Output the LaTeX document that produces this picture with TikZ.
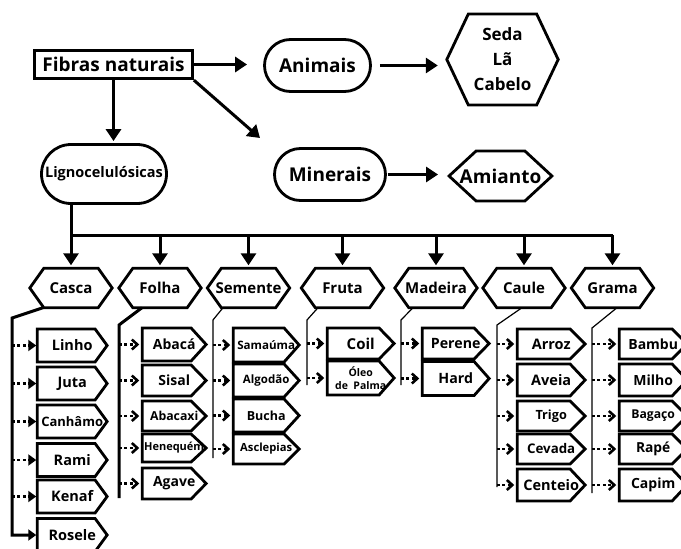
\documentclass[tikz,border=0pt]{standalone}
\usepackage{fontspec}
\setmainfont{Open Sans}
\usetikzlibrary{positioning,calc,arrows.meta,shapes.misc}
\newcommand*{\fsz}[1]{\fontsize{#1pt}{#1pt}\selectfont}
\tikzset{
  box/.style={draw,line width=2.8pt,inner sep=0pt,font=\bfseries},
  pill/.style={box,rounded rectangle,font=\bfseries\fsz{19}},
  outline/.style={line width=2.8pt,line join=miter},
  % hexagon pointed to both sides, #1 = depth of the points
  hexa/.style={inner sep=0pt,minimum width=82pt,minimum height=39pt,font=\bfseries\fsz{15},
    append after command={\pgfextra{\draw[outline] (\tikzlastnode.west)
      -- ([xshift=#1]\tikzlastnode.north west) -- ([xshift=-#1]\tikzlastnode.north east)
      -- (\tikzlastnode.east) -- ([xshift=-#1]\tikzlastnode.south east)
      -- ([xshift=#1]\tikzlastnode.south west) -- cycle;}}},
  hexa/.default=14pt,
  % box pointed to the right
  leaf/.style={inner sep=0pt,minimum width=67.5pt,minimum height=30.5pt,font=\bfseries\fsz{14.5},anchor=west,
    append after command={\pgfextra{\draw[outline] (\tikzlastnode.north west)
      -- ([xshift=-#1]\tikzlastnode.north east) -- (\tikzlastnode.east)
      -- ([xshift=-#1]\tikzlastnode.south east) -- (\tikzlastnode.south west) -- cycle;}}},
  leaf/.default=15pt,
  link/.style={line width=3pt,-{Triangle[length=12pt,width=15pt]}},
  stem/.style={line width=1.2pt},
  stemthick/.style={line width=3pt},
  dotlink/.style={line width=2.8pt,dash pattern=on 2.8pt off 2.6pt,shorten >=3pt,
    -{Straight Barb[length=5.5pt,width=10pt,line width=2.6pt]}},
  dotlinkfull/.style={line width=2.8pt,dash pattern=on 2.8pt off 2.6pt,shorten >=1pt,
    -{Triangle[length=8pt,width=11pt]}},
}

\begin{document}
\begin{tikzpicture}[x=1pt,y=-1pt]
\useasboundingbox (0,0) rectangle (681,549);
% top row
\node[box,minimum width=158pt,minimum height=28.5pt,font=\bfseries\fsz{19}] (fib) at (113.5,64.5) {Fibras naturais};
\node[pill,minimum width=106pt,minimum height=52pt] (ani) at (317.5,65.5) {Animais};
\node[hexa=21.5pt,minimum width=111pt,minimum height=90.5pt,align=center,
  font=\bfseries\fontsize{17pt}{25pt}\selectfont] (seda) at (502.5,59.5) {Seda\\Lã\\Cabelo};
\node[pill,minimum width=125pt,minimum height=59pt,font=\bfseries\fsz{14.5}] (lig) at (104,174) {Lignocelulósicas};
\node[pill,minimum width=111pt,minimum height=52pt] (min) at (330,174.5) {Minerais};
\node[hexa=27pt,minimum width=102.5pt,minimum height=49.5pt,font=\bfseries\fsz{19}] (ami) at (500.5,176) {Amianto};
\coordinate (tipmin) at (260,138);
\draw[link,shorten >=16pt] (fib.east) -- (ani.west |- fib.east);
\draw[link] (fib.south east) -- (tipmin);
\draw[link,shorten >=2pt] (fib.south) -- (fib.south |- lig.north);
\draw[link,shorten <=8pt,shorten >=9pt] (ani.east) -- (seda.west |- ani.east);
\draw[link,shorten <=1pt,shorten >=11pt] (min.east) -- (ami.west |- min.east);

% categories
\node[hexa] (casca) at (71,288) {Casca};
\node[hexa] (folha) at (160,288) {Folha};
\node[hexa] (semente) at (248.5,288) {Semente};
\node[hexa] (fruta) at (342.5,288) {Fruta};
\node[hexa] (madeira) at (436,288) {Madeira};
\node[hexa] (caule) at (524,288) {Caule};
\node[hexa] (grama) at (612.5,288) {Grama};
\coordinate (bus) at (0,235);
\draw[line width=3pt] (casca.north |- lig.south) -- (casca.north |- bus) -- (grama.north |- bus);
\draw[link,shorten >=3pt] (casca.north |- bus) -- (casca.north);
\draw[link,shorten >=3pt] (folha.north |- bus) -- (folha.north);
\draw[link,shorten >=3pt] (semente.north |- bus) -- (semente.north);
\draw[link,shorten >=3pt] (fruta.north |- bus) -- (fruta.north);
\draw[link,shorten >=3pt] (madeira.north |- bus) -- (madeira.north);
\draw[link,shorten >=3pt] (caule.north |- bus) -- (caule.north);
\draw[link,shorten >=3pt] (grama.north |- bus) -- (grama.north);

% Casca
\node[leaf=12pt,minimum width=69.5pt,minimum height=32.5pt] (linho) at (37.25,345.5) {Linho};
\node[leaf=12pt,minimum width=69.5pt,minimum height=32.5pt] (juta) at (37.25,383.5) {Juta};
\node[leaf=12pt,minimum width=69.5pt,minimum height=32.5pt,font=\bfseries\fsz{13}] (canhamo) at (37.25,421.5) {Canhâmo};
\node[leaf=12pt,minimum width=69.5pt,minimum height=32.5pt] (rami) at (37.25,460) {Rami};
\node[leaf=12pt,minimum width=69.5pt,minimum height=32.5pt] (kenaf) at (37.25,496.5) {Kenaf};
\node[leaf=12pt,minimum width=69.5pt,minimum height=32.5pt] (rosele) at (37.25,535) {Rosele};
\coordinate (cascastem) at (12,318);
\draw[stemthick,-{Triangle[length=8pt,width=11pt]},shorten >=1pt]
  ($(casca.south)+(-28,0)$) -- (cascastem) |- (rosele.west);
\path[dotlinkfull] (linho.west -| cascastem) edge (linho.west)
  (juta.west -| cascastem) edge (juta.west)
  (canhamo.west -| cascastem) edge (canhamo.west)
  (rami.west -| cascastem) edge (rami.west)
  (kenaf.west -| cascastem) edge (kenaf.west);

% Folha
\node[leaf,minimum width=63.5pt,minimum height=32.5pt,font=\bfseries\fsz{14}] (abaca) at (142.25,344.5) {Abacá};
\node[leaf,minimum width=63.5pt,font=\bfseries\fsz{14}] (sisal) at (142.25,380.5) {Sisal};
\node[leaf,minimum width=63.5pt,minimum height=29.5pt,font=\bfseries\fsz{12.3}] (abacaxi) at (142.25,416) {Abacaxi};
\node[leaf,minimum width=63.5pt,minimum height=27.5pt,font=\bfseries\fsz{11}] (henequem) at (142.25,448) {Henequém};
\node[leaf,minimum width=63.5pt,font=\bfseries\fsz{14}] (agave) at (142.25,483.5) {Agave};
\coordinate (folhastem) at (119,325);
\coordinate (folhaend) at (119,498);
\draw[stemthick] ($(folha.south)+(-18,0)$) -- (folhastem) -- (folhaend);
\path[dotlink] (abaca.west -| folhastem) edge (abaca.west)
  (sisal.west -| folhastem) edge (sisal.west)
  (abacaxi.west -| folhastem) edge (abacaxi.west)
  (henequem.west -| folhastem) edge (henequem.west)
  (agave.west -| folhastem) edge (agave.west);

% Semente
\node[leaf,minimum width=65.5pt,minimum height=33.5pt,font=\bfseries\fsz{11.6}] (samauma) at (233.25,345) {Samaúma};
\node[leaf,minimum width=65.5pt,minimum height=32.5pt,font=\bfseries\fsz{11.5}] (algodao) at (233.25,380.5) {Algodão};
\node[leaf,minimum width=65.5pt,minimum height=32.5pt,font=\bfseries\fsz{12.5}] (bucha) at (233.25,415.5) {Bucha};
\node[leaf,minimum width=65.5pt,minimum height=29.5pt,font=\bfseries\fsz{11.2}] (asclepias) at (233.25,449) {Asclepias};
\coordinate (sementestem) at (213,320);
\coordinate (sementeend) at (213,458);
\draw[stem] ($(semente.south)+(-25.5,0)$) -- (sementestem) -- (sementeend);
\path[dotlink] (samauma.west -| sementestem) edge (samauma.west)
  (algodao.west -| sementestem) edge (algodao.west)
  (bucha.west -| sementestem) edge (bucha.west)
  (asclepias.west -| sementestem) edge (asclepias.west);

% Fruta
\node[leaf,minimum width=66.5pt,font=\bfseries\fsz{15}] (coil) at (327.25,343.5) {Coil};
\node[leaf,minimum width=66.5pt,minimum height=33.5pt,align=center,
  font=\bfseries\fontsize{10.5pt}{13pt}\selectfont] (oleo) at (327.25,378) {Óleo\\de~~Palma};
\coordinate (frutastem) at (307,320);
\coordinate (frutaend) at (307,385);
\draw[stem] ($(fruta.south)+(-24.5,0)$) -- (frutastem) -- (frutaend);
\path[dotlink] (coil.west -| frutastem) edge (coil.west)
  (oleo.west -| frutastem) edge (oleo.west);

% Madeira
\node[leaf,minimum width=66.5pt,font=\bfseries\fsz{14.2}] (perene) at (422.25,343.5) {Perene};
\node[leaf,minimum width=66.5pt,minimum height=33.5pt,font=\bfseries\fsz{14.2}] (hard) at (422.25,378.5) {Hard};
\coordinate (madeirastem) at (401,320);
\coordinate (madeiraend) at (401,385);
\draw[stem] ($(madeira.south)+(-23,0)$) -- (madeirastem) -- (madeiraend);
\path[dotlink] (perene.west -| madeirastem) edge (perene.west)
  (hard.west -| madeirastem) edge (hard.west);

% Caule
\node[leaf,minimum height=29.5pt] (arroz) at (517.25,344) {Arroz};
\node[leaf,minimum height=31.5pt] (aveia) at (517.25,380) {Aveia};
\node[leaf,minimum height=29.5pt,font=\bfseries\fsz{12.7}] (trigo) at (517.25,416) {Trigo};
\node[leaf,minimum height=29.5pt,font=\bfseries\fsz{13.3}] (cevada) at (517.25,449) {Cevada};
\node[leaf,minimum height=31.5pt] (centeio) at (517.25,485) {Centeio};
\coordinate (caulestem) at (497,325);
\coordinate (cauleend) at (497,487);
\draw[stem] ($(caule.south)+(-2,0)$) -- (caulestem) -- (cauleend);
\path[dotlink] (arroz.west -| caulestem) edge (arroz.west)
  (aveia.west -| caulestem) edge (aveia.west)
  (trigo.west -| caulestem) edge (trigo.west)
  (cevada.west -| caulestem) edge (cevada.west)
  (centeio.west -| caulestem) edge (centeio.west);

% Grama
\node[leaf,minimum height=29.5pt,font=\bfseries\fsz{14}] (bambu) at (619.25,344) {Bambu};
\node[leaf,minimum height=31.5pt,font=\bfseries\fsz{14}] (milho) at (619.25,380) {Milho};
\node[leaf,minimum height=29.5pt,font=\bfseries\fsz{12.2}] (bagaco) at (619.25,416) {Bagaço};
\node[leaf,minimum height=29.5pt,font=\bfseries\fsz{13.8}] (rape) at (619.25,449) {Rapé};
\node[leaf,minimum height=31.5pt,font=\bfseries\fsz{14}] (capim) at (619.25,485) {Capim};
\coordinate (gramastem) at (592,328);
\coordinate (gramaend) at (592,493);
\draw[stem] ($(grama.south)+(4.5,0)$) -- (gramastem) -- (gramaend);
\path[dotlink] (bambu.west -| gramastem) edge (bambu.west)
  (milho.west -| gramastem) edge (milho.west)
  (bagaco.west -| gramastem) edge (bagaco.west)
  (rape.west -| gramastem) edge (rape.west)
  (capim.west -| gramastem) edge (capim.west);
\end{tikzpicture}
\end{document}
